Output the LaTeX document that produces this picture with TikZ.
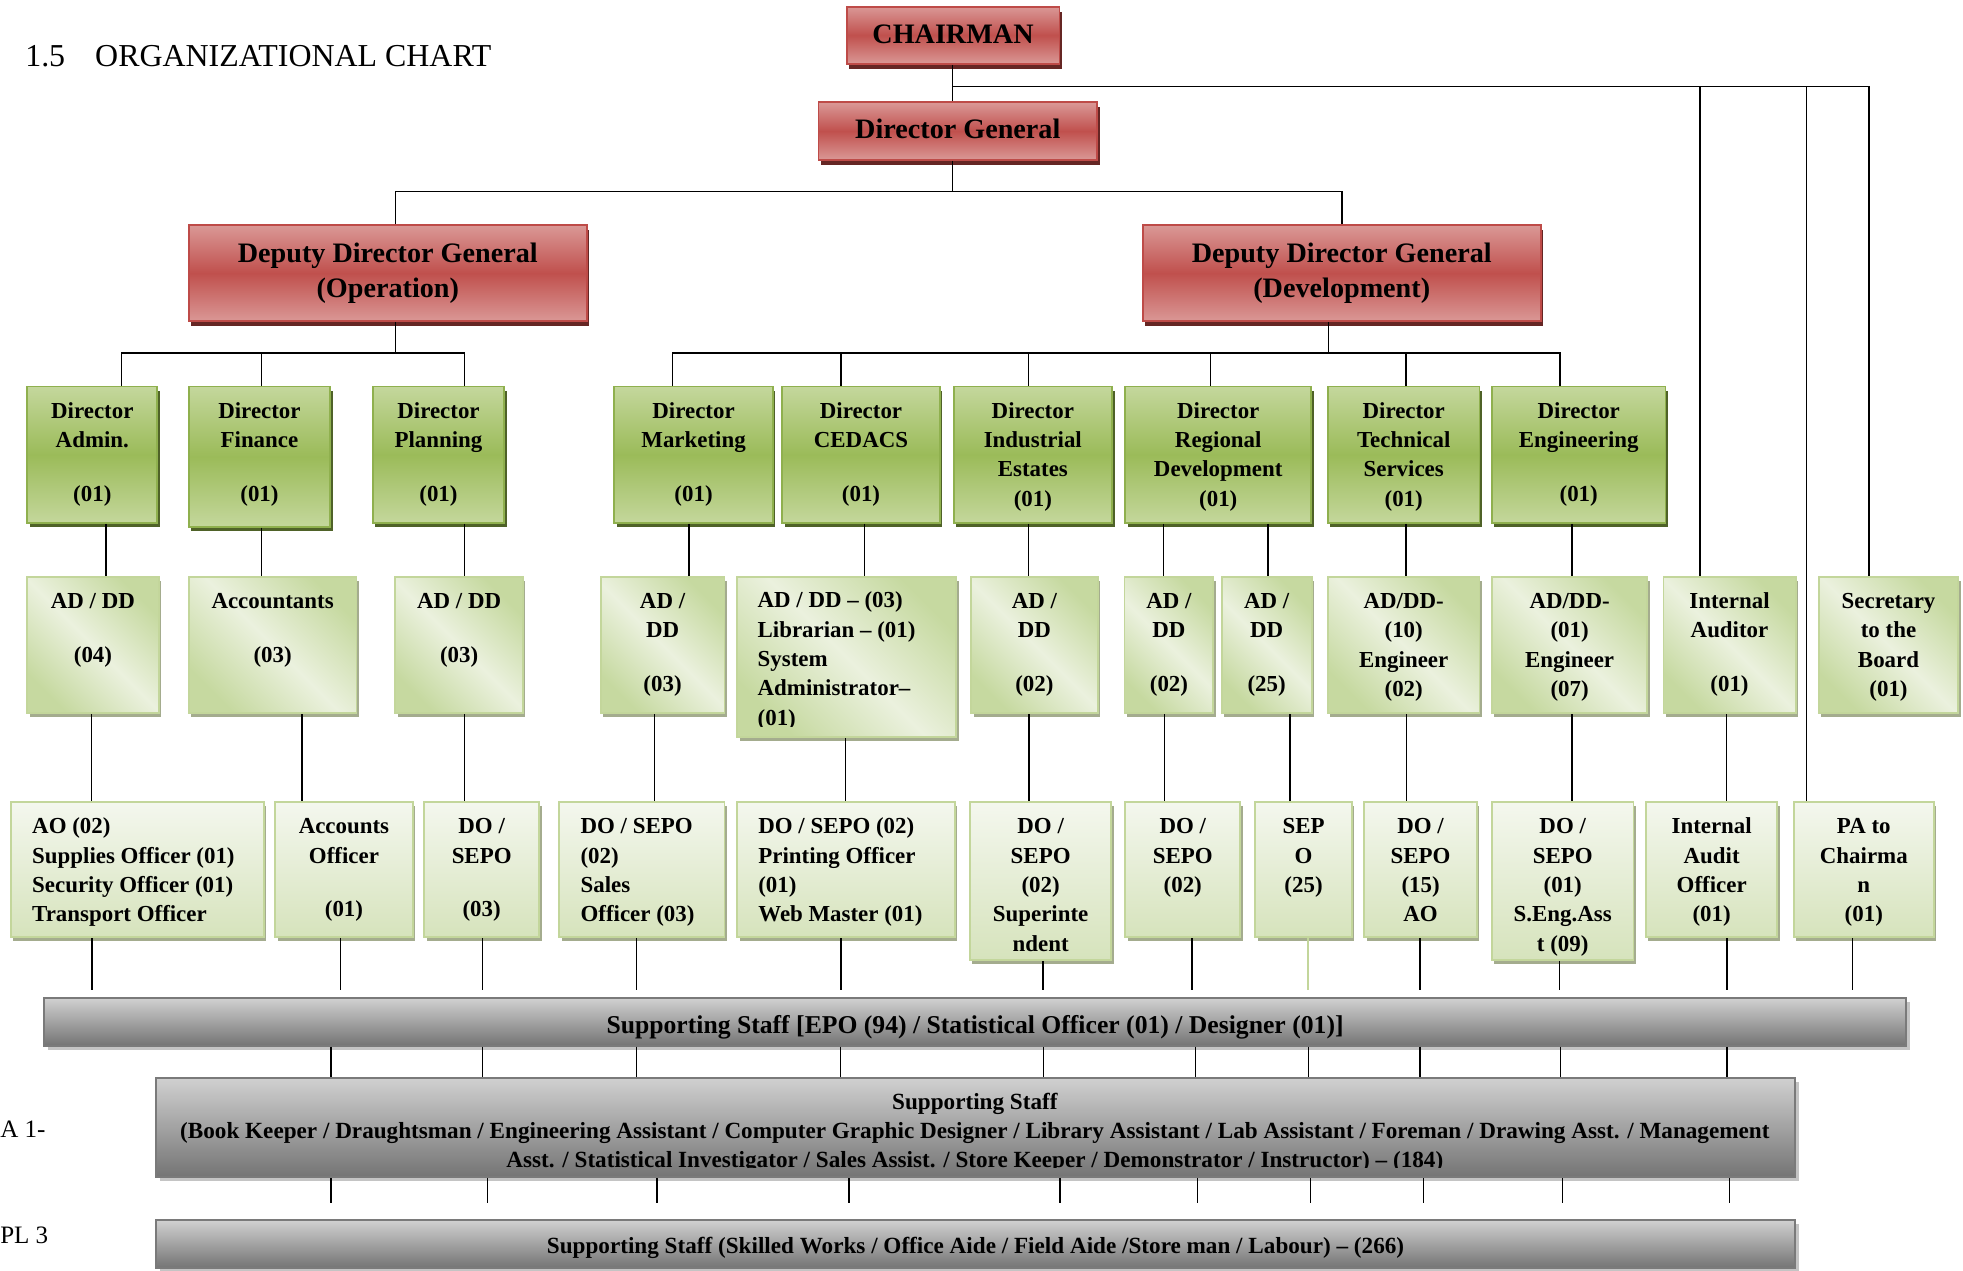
\documentclass[tikz,border=0pt]{standalone}
\usepackage{fontspec}
\setmainfont{Liberation Serif}
\usetikzlibrary{shadows}
\definecolor{redL}{HTML}{DA9896}
\definecolor{redM}{HTML}{C0504D}
\definecolor{redB}{HTML}{BE4B48}
\definecolor{redS}{HTML}{652624}
\definecolor{grnL}{HTML}{C4D79C}
\definecolor{grnM}{HTML}{9BBB59}
\definecolor{grnB}{HTML}{8FB04E}
\definecolor{grnS}{HTML}{4F6228}
\definecolor{lgL}{HTML}{EBF1DE}
\definecolor{lgD}{HTML}{C6D9A0}
\definecolor{lgB}{HTML}{C3D69B}
\definecolor{lgS}{HTML}{A4AC8E}
\definecolor{lvT}{HTML}{F4F7EE}
\definecolor{lvB}{HTML}{D6E3BC}
\definecolor{barT}{HTML}{D0D0D0}
\definecolor{barD}{HTML}{747474}
\definecolor{barB}{HTML}{7A7A7A}
\definecolor{barS}{HTML}{C4C4C4}
\newcommand{\gfont}{\fontsize{18.3pt}{23.4pt}\selectfont\bfseries}
\newcommand{\barfont}{\fontsize{18.5pt}{23pt}\selectfont\bfseries}
\newcommand{\redfont}{\fontsize{22.5pt}{28.5pt}\selectfont\bfseries}
\newlength\bxpad \setlength\bxpad{9pt}
\newcommand{\cbx}[3]{\parbox[c][#2pt][t]{#1pt}{\centering\vspace*{\bxpad}\strut#3\par}}
\newcommand{\lbx}[3]{\parbox[c][#2pt][t]{#1pt}{\raggedright\leftskip=17pt\vspace*{\bxpad}\strut#3\par}}
\tikzset{
  conn/.style={line width=1.2pt, draw=black},
  redbox/.style={draw=redB, line width=1.5pt, top color=redL, bottom color=redL, middle color=redM,
    drop shadow={shadow xshift=2pt, shadow yshift=-4pt, fill=redS, opacity=1},
    inner sep=0pt, align=center, anchor=north west, font=\redfont},
  dirbox/.style={draw=grnB, line width=1.5pt, top color=grnL, bottom color=grnL, middle color=grnM,
    drop shadow={shadow xshift=2pt, shadow yshift=-3.5pt, fill=grnS, opacity=1},
    inner sep=0pt, anchor=north west, font=\gfont},
  adbox/.style={draw=lgB, line width=1.5pt, top color=lgD, bottom color=lgD, middle color=lgL, shading angle=-45,
    drop shadow={shadow xshift=2pt, shadow yshift=-3pt, fill=lgS, opacity=1},
    inner sep=0pt, anchor=north west, font=\gfont},
  dobox/.style={draw=lgB, line width=1.5pt, top color=lvT, bottom color=lvB,
    drop shadow={shadow xshift=2pt, shadow yshift=-3pt, fill=lgS, opacity=1},
    inner sep=0pt, anchor=north west, font=\gfont},
  barbox/.style={draw=barB, line width=1.5pt, top color=barT, bottom color=barD,
    drop shadow={shadow xshift=3pt, shadow yshift=-3pt, fill=barS, opacity=1},
    inner sep=0pt, align=center, anchor=north west},
  plaintext/.style={anchor=north west, inner sep=0pt},
}
\begin{document}
\begin{tikzpicture}[x=1pt, y=-1pt]
\useasboundingbox (0,0) rectangle (1568,1015);
% title and side labels
\node[anchor=west, inner sep=0pt, font=\fontsize{25.5pt}{30pt}\selectfont] (title) at (20,45) {1.5\hspace{24pt}ORGANIZATIONAL CHART};
\node[anchor=west, inner sep=0pt, font=\fontsize{20pt}{24pt}\selectfont] (lblA) at (0,902) {A 1-};
\node[anchor=west, inner sep=0pt, font=\fontsize{20pt}{24pt}\selectfont] (lblP) at (0,987) {PL 3};
% red boxes
\node[redbox, minimum width=170pt, minimum height=46pt, text height=12.6pt, text depth=0pt] (ch) at (675.5,4.5) {CHAIRMAN};
\node[redbox, minimum width=222.6pt, minimum height=46pt, text height=11.6pt, text depth=0pt] (dg) at (653,81) {Director General};
\node[redbox, minimum width=318pt, minimum height=77pt] (ddgo) at (150,179) {Deputy Director General\\(Operation)};
\node[redbox, minimum width=318pt, minimum height=77pt] (ddgd) at (912,179) {Deputy Director General\\(Development)};
% directors
\node[dirbox] (dadm) at (21,308) {\cbx{104}{109}{Director\\Admin.\\[19.5pt](01)}};
\node[dirbox] (dfin) at (150,308) {\cbx{113}{112}{Director\\Finance\\[19.5pt](01)}};
\node[dirbox] (dpl) at (297,308) {\cbx{105}{109}{Director\\Planning\\[19.5pt](01)}};
\node[dirbox] (dmk) at (490,308) {\cbx{126.5}{109}{Director\\Marketing\\[19.5pt](01)}};
\node[dirbox] (dce) at (624,308) {\cbx{126}{109}{Director\\CEDACS\\[19.5pt](01)}};
\node[dirbox] (din) at (761,308) {\cbx{126.5}{109}{Director\\Industrial\\Estates\\(01)}};
\node[dirbox] (drg) at (898,308) {\cbx{148.7}{109}{Director\\Regional\\Development\\(01)}};
\node[dirbox] (dts) at (1060,308) {\cbx{121}{109}{Director\\Technical\\Services\\(01)}};
\node[dirbox] (den) at (1191,308) {\cbx{138.6}{109}{Director\\Engineering\\[19.5pt](01)}};
% level 3
\node[adbox] (adadm) at (21,460) {\cbx{105}{109}{AD / DD\\[19.5pt](04)}};
\node[adbox] (acct) at (150,460) {\cbx{134}{109}{Accountants\\[19.5pt](03)}};
\node[adbox] (adpl) at (315,460) {\cbx{102}{109}{AD / DD\\[19.5pt](03)}};
\node[adbox] (admk) at (479,460) {\cbx{99}{109}{AD /\\DD\\[19.5pt](03)}};
\node[adbox, minimum width=175pt, minimum height=128pt] (adce) at (588,460) {};
\begin{scope}
  \clip (588,460) rectangle (763,580);
  \node[plaintext, font=\gfont] (adcetxt) at (adce.north west) {\lbx{175}{128}{AD / DD – (03)\\Librarian – (01)\\System\\Administrator–\\(01)}};
\end{scope}
\node[adbox] (adin) at (775,460) {\cbx{101}{109}{AD /\\DD\\[19.5pt](02)}};
\node[adbox] (adrg1) at (897.5,460) {\cbx{71}{109}{AD /\\DD\\[19.5pt](02)}};
\node[adbox] (adrg2) at (975,460) {\cbx{72}{109}{AD /\\DD\\[19.5pt](25)}};
\node[adbox] (adts) at (1060,460) {\cbx{121}{109}{AD/DD-\\(10)\\Engineer\\(02)}};
\node[adbox] (aden) at (1191,460) {\cbx{124}{109}{AD/DD-\\(01)\\Engineer\\(07)}};
\node[adbox] (ia) at (1328,460) {\cbx{105.5}{109}{Internal\\Auditor\\[19.5pt](01)}};
\node[adbox] (sec) at (1452,460) {\cbx{111.5}{109}{Secretary\\to the\\Board\\(01)}};
% level 4
\node[dobox] (ao) at (8,640) {\lbx{202}{108}{AO (02)\\Supplies Officer (01)\\Security Officer (01)\\Transport Officer}};
\node[dobox] (aco) at (219,640) {\cbx{110}{108}{Accounts\\Officer\\[19.5pt](01)}};
\node[dobox] (dopl) at (338,640) {\cbx{92}{108}{DO /\\SEPO\\[19.5pt](03)}};
\node[dobox] (domk) at (446,640) {\lbx{132}{108}{DO / SEPO\\(02)\\Sales\\Officer (03)}};
\node[dobox] (doce) at (588,640) {\lbx{174}{108}{DO / SEPO (02)\\Printing Officer\\(01)\\Web Master (01)}};
\node[dobox] (doin) at (774,640) {\cbx{113}{126}{DO /\\SEPO\\(02)\\Superinte\\ndent}};
\node[dobox] (dorg1) at (898,640) {\cbx{92}{108}{DO /\\SEPO\\(02)}};
\node[dobox] (dorg2) at (1002,640) {\cbx{77}{108}{SEP\\O\\(25)}};
\node[dobox] (dots) at (1089,640) {\cbx{90}{108}{DO /\\SEPO\\(15)\\AO}};
\node[dobox] (doen) at (1191,640) {\cbx{113}{126}{DO /\\SEPO\\(01)\\S.Eng.Ass\\t (09)}};
\node[dobox] (iao) at (1314,640) {\cbx{105}{108}{Internal\\Audit\\Officer\\(01)}};
\node[dobox] (pa) at (1432,640) {\cbx{112}{108}{PA to\\Chairma\\n\\(01)}};
% bars
\node[barbox, minimum width=1487pt, minimum height=38pt, text height=18.8pt, text depth=0pt, font=\fontsize{20.5pt}{24pt}\selectfont\bfseries] (bar1) at (34.6,796.6) {Supporting Staff [EPO (94) / Statistical Officer (01) / Designer (01)]};
\node[barbox, minimum width=1309pt, minimum height=79pt] (bar2) at (124,860.5) {};
\begin{scope}
  \clip (124,860.5) rectangle (1433,932.5);
  \node[plaintext, font=\barfont] (bar2txt) at (bar2.north west) {\parbox[c][79pt][t]{1309pt}{\centering\vspace*{9.4pt}\strut Supporting Staff\\(Book Keeper / Draughtsman / Engineering Assistant / Computer Graphic Designer / Library Assistant / Lab Assistant / Foreman / Drawing Asst. / Management\\Asst. / Statistical Investigator / Sales Assist. / Store Keeper / Demonstrator / Instructor) – (184)\par}};
\end{scope}
\node[barbox, minimum width=1309pt, minimum height=38pt, text height=15pt, text depth=0pt, font=\barfont] (bar3) at (124,974) {Supporting Staff (Skilled Works / Office Aide / Field Aide /Store man / Labour) – (266)};
% connectors: top
\coordinate (bus0) at (761,69);
\draw[conn] (ch.south -| 761,0) -- (dg.north -| 761,0);
\draw[conn] (bus0) -| (sec.north -| 1493,0);
\draw[conn] (ia.north -| 1358,0) -- (bus0 -| 1358,0);
\draw[conn] (pa.north -| 1443,0) -- (bus0 -| 1443,0);
\draw[conn] (dg.south -| 761,0) -- (761,153);
\draw[conn] (ddgo.north -| 316,0) |- (ddgd.north |- 0,153) -- (ddgd.north);
% operation bus
\draw[conn] (ddgo.south -| 316,0) -- (316,282);
\draw[conn] (dadm.north -| 97,0) -- (97,282) -- (371,282) -- (dpl.north -| 371,0);
\draw[conn] (dfin.north -| 209,0) -- (209,282);
% development bus
\draw[conn] (ddgd.south -| 1061,0) -- (1061,282);
\draw[conn] (dmk.north -| 537,0) -- (537,282) -- (1246,282) -- (den.north -| 1246,0);
\foreach \n/\x in {dce/671.7, din/821.5, drg/967, dts/1123}
  \draw[conn] (\n.north -| \x,0) -- (\x,282);
% director -> level 3
\foreach \a/\b/\x in {dadm/adadm/84.5, dfin/acct/209, dpl/adpl/371, dmk/admk/550.5, dce/adce/690.6,
    din/adin/821.5, drg/adrg1/929.5, drg/adrg2/1013, dts/adts/1123, den/aden/1255.6}
  \draw[conn] (\a.south -| \x,0) -- (\b.north -| \x,0);
% level 3 -> level 4
\foreach \a/\b/\x in {adadm/ao/73, acct/aco/241.4, adpl/dopl/371, admk/domk/522.8, adce/doce/675.2,
    adin/doin/821.8, adrg1/dorg1/930.2, adrg2/dorg2/1030.5, adts/dots/1123.4, aden/doen/1255.5, ia/iao/1379}
  \draw[conn] (\a.south -| \x,0) -- (\b.north -| \x,0);
% level 4 -> bar 1
\foreach \a/\x in {ao/73.3, aco/271.8, dopl/385.5, domk/508.5, doce/671.9, doin/833.3, dorg1/952.2,
    dots/1134.4, doen/1245.7, iao/1379.5, pa/1479.7}
  \draw[conn] (\a.south -| \x,0) -- (\x,791);
\draw[conn, draw=lgB] (dorg2.south -| 1044.7,0) -- (1044.7,791);
% bar 1 -> bar 2
\foreach \x in {264.4, 385.6, 508.4, 671.4, 833.6, 954.8, 1045.2, 1134.4, 1246.4, 1379.5}
  \draw[conn] (bar1.south -| \x,0) -- (bar2.north -| \x,0);
% bar 2 -> below
\foreach \x in {264.4, 389.2, 524.7, 678, 846.5, 956.4, 1046.7, 1137, 1248, 1381.6}
  \draw[conn] (bar2.south -| \x,0) -- (\x,961);
\end{tikzpicture}
\end{document}
